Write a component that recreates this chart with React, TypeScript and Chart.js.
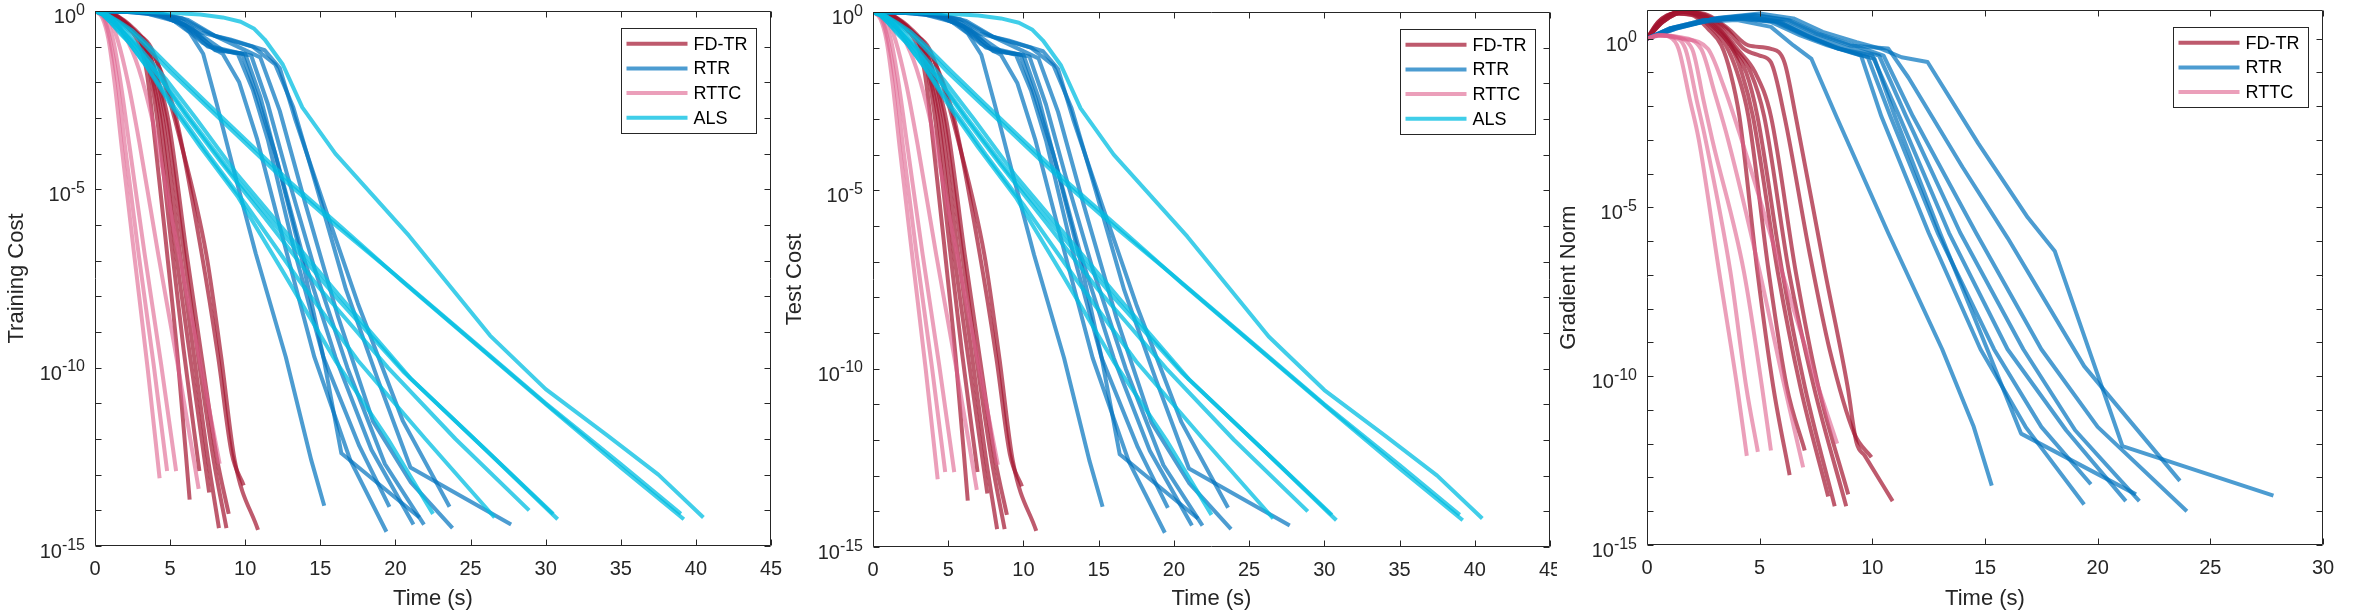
import React, { useEffect, useRef } from 'react';
import { Chart, registerables } from 'chart.js';

Chart.register(...registerables);

// Each curve: list of [time (s), log10(value)]
type Curve = [number, number][];

const METHOD_NAMES = ['FD-TR', 'RTR', 'RTTC', 'ALS'];
const METHOD_COLORS = [
  'rgba(162,20,47,0.7)',
  'rgba(0,114,189,0.7)',
  'rgba(222,95,140,0.6)',
  'rgba(0,190,225,0.75)',
];
// smooth (monotone) or straight segments per method
const METHOD_SMOOTH = [true, false, true, false];

const X_TICKS_COST = [0, 5, 10, 15, 20, 25, 30, 35, 40, 45];
const X_TICKS_GRAD = [0, 5, 10, 15, 20, 25, 30];
const Y_LABEL_EXPONENTS = [0, -5, -10, -15];

// ---------- Training cost ----------
const TRAIN_FDTR: Curve[] = [
  [[0, 0], [1, -0.1], [2, -0.4], [2.8, -0.8], [3.4, -1.6], [3.8, -2.9], [4.8, -6.8], [5.5, -9.7], [6.3, -13.7]],
  [[0, 0], [1, -0.1], [2.1, -0.4], [3.0, -0.8], [3.6, -1.6], [4.1, -2.9], [5.1, -6.6], [5.9, -9.5], [6.95, -12.9]],
  [[0, 0], [1.1, -0.1], [2.2, -0.4], [3.1, -0.9], [3.7, -1.7], [4.3, -2.9], [5.4, -6.8], [6.4, -9.9], [7.6, -13.5]],
  [[0, 0], [1.1, -0.1], [2.3, -0.5], [3.2, -0.9], [3.8, -1.6], [4.5, -3.0], [5.6, -6.6], [6.6, -9.7], [7.5, -12.5], [8.25, -14.5]],
  [[0, 0], [1.2, -0.1], [2.4, -0.5], [3.3, -0.9], [4.0, -1.7], [4.7, -3.0], [5.9, -6.7], [6.9, -9.8], [7.9, -12.6], [8.75, -14.5]],
  [[0, 0], [1.2, -0.1], [2.5, -0.5], [3.4, -1.0], [4.1, -1.8], [4.9, -3.1], [6.1, -6.8], [7.1, -9.7], [8.1, -12.5], [8.9, -14.1]],
  [[0, 0], [1.3, -0.1], [2.6, -0.5], [3.6, -1.0], [4.5, -1.8], [5.4, -3.0], [7.1, -6.8], [8.2, -9.7], [9.1, -12.4], [9.9, -13.3]],
  [[0, 0], [1.3, -0.1], [2.7, -0.6], [3.7, -1.0], [4.6, -2.0], [5.6, -3.5], [7.4, -6.8], [8.4, -9.7], [9.3, -12.6], [10.85, -14.55]],
];

const TRAIN_RTR: Curve[] = [
  [[0, 0], [2, -0.02], [3.5, -0.08], [5, -0.2], [6.3, -0.6], [7.2, -1.2], [8.1, -2.6], [9.2, -4.4], [10.7, -6.8], [12.7, -9.7], [14.4, -12.6], [15.26, -13.87]],
  [[0, 0], [2, -0.02], [3.5, -0.08], [5.5, -0.3], [7.2, -0.9], [8.5, -1.2], [9.6, -2.0], [10.8, -3.6], [12.4, -6.2], [14.6, -9.7], [17.0, -12.6], [19.4, -14.6]],
  [[0, 0], [2.5, -0.02], [4.2, -0.1], [6, -0.4], [7.5, -1.0], [9.5, -1.2], [10.5, -2.2], [11.5, -3.6], [13.2, -6.6], [15.2, -9.7], [17.6, -12.2], [19.6, -13.9]],
  [[0, 0], [2.5, -0.02], [4.2, -0.1], [6, -0.4], [7.8, -1.0], [9.8, -1.2], [10.8, -2.4], [12, -4], [13.8, -6.8], [16.0, -9.7], [18.4, -12.3], [21.2, -14.4]],
  [[0, 0], [3, -0.02], [4.8, -0.12], [6.5, -0.5], [8, -1.1], [10, -1.2], [11, -2.4], [12.3, -4.5], [13.8, -7], [15.2, -9.7], [16.4, -12.4], [21.6, -14.2]],
  [[0, 0], [3, -0.03], [5, -0.15], [6.8, -0.6], [8.5, -1.1], [10.4, -1.25], [11.5, -2.6], [12.8, -4.6], [14.6, -7.2], [16.8, -10], [19.3, -12.7], [21.9, -14.4]],
  [[0, 0], [3.5, -0.03], [5.5, -0.2], [7, -0.6], [9, -0.8], [11.3, -1.1], [12.3, -1.6], [13.3, -3.0], [15.3, -5.5], [17.5, -8.2], [20.5, -11.5], [23.6, -13.9]],
  [[0, 0], [3.5, -0.03], [5.8, -0.2], [7.5, -0.6], [9.5, -1.0], [11, -1.3], [12.3, -2.8], [14, -5.4], [16.2, -8.6], [18.5, -11.5], [21, -13.2], [23.8, -14.5]],
  [[0, 0], [4, -0.03], [6.2, -0.25], [8, -0.7], [10.5, -1.0], [12, -1.5], [13.2, -2.7], [14.8, -5], [16.7, -7.8], [18.8, -10.3], [21, -12.8], [27.7, -14.4]],
];

const TRAIN_RTTC: Curve[] = [
  [[0, 0], [0.5, -0.2], [0.9, -0.8], [1.3, -2.0], [1.8, -3.9], [2.6, -6.8], [3.5, -10], [4.3, -13.1]],
  [[0, 0], [0.6, -0.2], [1.0, -0.8], [1.5, -2.0], [2.0, -3.8], [2.9, -6.8], [3.9, -9.9], [4.8, -12.9]],
  [[0, 0], [0.7, -0.2], [1.2, -0.8], [1.7, -2.0], [2.3, -3.8], [3.3, -6.8], [4.4, -9.9], [5.4, -12.9]],
  [[0, 0], [0.9, -0.2], [1.5, -0.8], [2.2, -2.0], [3.0, -3.8], [4.2, -6.8], [5.5, -9.9], [6.9, -13.4]],
  [[0, 0], [1.1, -0.2], [2.0, -0.7], [2.9, -1.6], [3.9, -3.2], [5.3, -6.2], [6.8, -9.4], [8.3, -12.7]],
];

const TRAIN_ALS: Curve[] = [
  [[0, 0], [0.5, -0.1], [1, -0.3], [1.6, -0.55], [2.2, -0.85], [3.5, -1.6], [5, -2.6], [7, -3.8], [9.5, -5.2], [12.5, -7.3], [16, -9.8], [19.5, -12], [22.5, -14.1]],
  [[0, 0], [0.5, -0.1], [1, -0.3], [1.6, -0.6], [2.3, -0.9], [3.7, -1.7], [5.3, -2.7], [7.5, -4.0], [10, -5.4], [13.5, -7.5], [17.5, -9.8], [22, -12], [26.6, -14.2]],
  [[0, 0], [0.6, -0.1], [1.2, -0.3], [1.9, -0.6], [2.6, -0.9], [4.2, -1.8], [6, -2.9], [8.5, -4.3], [11.5, -5.9], [15, -7.8], [19.5, -10], [24, -12], [28.9, -14.0]],
  [[0, 0], [0.6, -0.1], [1.2, -0.3], [1.9, -0.6], [2.7, -1.0], [4.4, -1.9], [6.3, -3.0], [9, -4.5], [12, -6], [16, -8], [20.5, -10.1], [25.5, -12.1], [30.5, -14.1]],
  [[0, 0], [0.7, -0.1], [1.3, -0.3], [2.1, -0.6], [2.9, -1.0], [4.7, -1.9], [6.7, -3.0], [9.5, -4.6], [12.5, -6.1], [16.5, -8.1], [21, -10.3], [26, -12.3], [30.8, -14.25]],
  [[0, 0], [0.8, -0.1], [1.5, -0.3], [2.3, -0.55], [3.2, -0.9], [5, -1.7], [7, -2.5], [9.5, -3.5], [12.5, -4.7], [16, -6], [20, -7.4], [25, -9.2], [30, -11], [35, -12.7], [39, -14.1]],
  [[0, 0], [0.8, -0.1], [1.6, -0.3], [2.5, -0.55], [3.4, -0.9], [5.3, -1.7], [7.5, -2.6], [10, -3.6], [13, -4.8], [16.5, -6.1], [20.5, -7.6], [25.5, -9.4], [30.5, -11.2], [35, -12.8], [39.2, -14.25]],
  [[0, 0], [3, -0.02], [5, -0.05], [7, -0.1], [8.5, -0.18], [9.7, -0.3], [10.6, -0.5], [11.3, -0.8], [12.5, -1.5], [13.8, -2.7], [16, -4], [20.9, -6.3], [26.3, -9.1], [30, -10.6], [34.1, -11.9], [37.5, -13], [40.5, -14.2]],
];

// ---------- Test cost (visually identical runs) ----------
const TEST_FDTR: Curve[] = TRAIN_FDTR;
const TEST_RTR: Curve[] = TRAIN_RTR;
const TEST_RTTC: Curve[] = TRAIN_RTTC;
const TEST_ALS: Curve[] = TRAIN_ALS;

// ---------- Gradient norm ----------
const GRAD_FDTR: Curve[] = [
  [[0, 0], [0.5, 0.5], [1.2, 0.75], [2, 0.7], [2.7, 0.3], [3.3, -0.2], [3.7, -1], [4.1, -2.3], [4.9, -6.9], [5.6, -10.3], [6.33, -12.93]],
  [[0, 0], [0.5, 0.5], [1.3, 0.75], [2.1, 0.7], [2.9, 0.3], [3.5, -0.2], [4.0, -1], [4.5, -2.3], [5.4, -6.9], [6.2, -10.3], [7.0, -12.2]],
  [[0, 0], [0.6, 0.5], [1.4, 0.8], [2.2, 0.7], [3.0, 0.3], [3.7, -0.2], [4.2, -1], [4.7, -2.3], [5.8, -6.9], [6.8, -10.3], [8.04, -13.56]],
  [[0, 0], [0.6, 0.5], [1.5, 0.8], [2.3, 0.7], [3.1, 0.3], [3.8, -0.3], [4.4, -1], [4.9, -2.3], [6.0, -6.9], [7.0, -10.3], [8.33, -13.85]],
  [[0, 0], [0.6, 0.5], [1.5, 0.8], [2.4, 0.7], [3.2, 0.3], [3.9, -0.3], [4.6, -1], [5.2, -2.3], [6.3, -6.9], [7.4, -10.3], [8.84, -13.85]],
  [[0, 0], [0.7, 0.5], [1.6, 0.8], [2.5, 0.7], [3.3, 0.3], [4.0, -0.3], [4.8, -1.0], [5.5, -2.3], [6.6, -6.9], [7.6, -10.3], [8.93, -13.5]],
  [[0, 0], [0.7, 0.5], [1.7, 0.8], [2.6, 0.7], [3.5, 0.3], [4.3, -0.3], [5.0, -0.5], [5.5, -0.7], [6.1, -2.3], [7.2, -6.3], [8.1, -9.2], [9.2, -11.7], [9.96, -12.4]],
  [[0, 0], [0.7, 0.5], [1.7, 0.8], [2.7, 0.7], [3.6, 0.3], [4.5, -0.2], [5.5, -0.3], [6.1, -0.7], [6.6, -2.3], [7.9, -6.9], [8.9, -10.3], [9.29, -11.95], [9.67, -12.36], [10.9, -13.7]],
];

const GRAD_RTR: Curve[] = [
  [[0, 0], [1, 0.3], [2.5, 0.5], [4, 0.55], [5.5, 0.35], [6.5, -0.2], [7.3, -0.6], [8.4, -2.3], [10.7, -5.75], [13.1, -9.2], [14.5, -11.5], [15.3, -13.24]],
  [[0, 0], [1, 0.3], [2.5, 0.55], [4, 0.6], [5.5, 0.5], [6.8, 0.1], [8, -0.2], [9.5, -0.5], [10.4, -2.3], [12.5, -5.75], [14.8, -9.2], [16.8, -11.5], [19.4, -13.8]],
  [[0, 0], [1, 0.3], [2.5, 0.55], [4.2, 0.6], [5.7, 0.5], [7, 0.1], [8.3, -0.25], [9.8, -0.55], [10.8, -2.3], [12.9, -5.75], [15.4, -9.2], [17.5, -11.5], [19.7, -13.2]],
  [[0, 0], [1.1, 0.3], [2.7, 0.55], [4.3, 0.62], [5.8, 0.5], [7.1, 0.1], [8.5, -0.3], [10, -0.5], [11.2, -2.3], [13.4, -5.75], [16, -9.2], [18.6, -11.6], [21.25, -13.7]],
  [[0, 0], [1.1, 0.3], [2.8, 0.55], [4.4, 0.62], [5.9, 0.5], [7.2, 0.05], [8.6, -0.3], [10.1, -0.6], [11.0, -2.3], [13, -5.75], [15.1, -9.2], [16.6, -11.7], [21.7, -13.5]],
  [[0, 0], [1.2, 0.3], [2.9, 0.58], [4.6, 0.65], [6, 0.5], [7.3, 0.1], [8.8, -0.25], [10.3, -0.5], [11.5, -2.3], [13.9, -5.75], [16.7, -9.2], [19, -11.6], [21.85, -13.7]],
  [[0, 0], [1.2, 0.3], [3, 0.6], [4.7, 0.7], [6.2, 0.55], [7.5, 0.15], [9, -0.2], [10.7, -0.29], [11.6, -1.15], [14, -3.8], [16, -5.9], [19.4, -9.7], [23.65, -13.1]],
  [[0, 0], [1.3, 0.3], [3.1, 0.6], [4.8, 0.7], [6.3, 0.55], [7.6, 0.15], [9.2, -0.2], [10.5, -0.5], [11.8, -2.3], [14.6, -5.75], [17.5, -9.2], [20, -11.5], [23.96, -14.0]],
  [[0, 0], [1.3, 0.3], [3.2, 0.62], [5, 0.75], [6.5, 0.6], [7.8, 0.2], [9.3, -0.1], [10.4, -0.3], [11.3, -0.55], [12.45, -0.69], [14.7, -3.1], [16.9, -5.3], [18.1, -6.3], [21.1, -12.07], [27.8, -13.54]],
];

const GRAD_RTTC: Curve[] = [
  [[0, 0], [0.5, 0.1], [1.0, 0.05], [1.4, -0.3], [1.9, -1.8], [2.3, -3], [3.2, -6.9], [4.0, -10.3], [4.43, -12.36]],
  [[0, 0], [0.5, 0.1], [1.1, 0.05], [1.7, -0.3], [2.2, -1.8], [2.6, -3], [3.7, -6.9], [4.4, -10.3], [4.92, -12.24]],
  [[0, 0], [0.5, 0.1], [1.2, 0.05], [2.0, -0.3], [2.5, -1.8], [2.9, -3], [4.3, -6.9], [5.1, -10.3], [5.5, -12.2]],
  [[0, 0], [0.6, 0.1], [1.4, 0.05], [2.4, -0.3], [3.0, -1.6], [3.6, -3], [5.0, -6.9], [6.0, -10], [6.93, -12.7]],
  [[0, 0], [0.7, 0.1], [1.6, 0.0], [2.7, -0.3], [3.4, -1.4], [4.2, -3], [5.8, -6.5], [7.2, -9.5], [8.44, -12.0]],
];

const FONT_FAMILY = "'Liberation Sans', Arial, Helvetica, sans-serif";
const AXIS_COLOR = '#262626';
const CANVAS_H = 610;
const LINE_W = 4;

interface SeriesSpec { name: string; color: string; smooth: boolean; curves: Curve[] }

interface PanelSpec {
  canvasLeft: number;
  canvasWidth: number;
  plotLeft: number;
  plotRight: number;
  plotTop: number;
  plotBottom: number;
  xMax: number;
  xTicks: number[];
  yMaxExp: number;
  yTitle: string;
  yTitleCenter: number;
  series: SeriesSpec[];
  whiteBg: boolean;
}

function makeFramePlugin(spec: PanelSpec) {
  return {
    id: 'matlabFrame',
    beforeDraw(chart: any) {
      if (!spec.whiteBg) return;
      const ctx = chart.ctx;
      ctx.save();
      ctx.fillStyle = '#ffffff';
      ctx.fillRect(0, 0, chart.width, chart.height);
      ctx.restore();
    },
    afterDatasetsDraw(chart: any) {
      const { ctx, chartArea: a, scales } = chart;
      const xs = scales.x;
      const ys = scales.y;
      ctx.save();
      ctx.strokeStyle = AXIS_COLOR;
      ctx.lineWidth = 1;
      const L = Math.round(a.left) + 0.5;
      const R = Math.round(a.right) - 0.5;
      const T = Math.round(a.top) + 0.5;
      const B = Math.round(a.bottom) - 0.5;
      ctx.beginPath();
      ctx.rect(L, T, R - L, B - T);
      const tl = 6;
      for (const t of spec.xTicks) {
        const px = Math.round(xs.getPixelForValue(t)) + 0.5;
        ctx.moveTo(px, B);
        ctx.lineTo(px, B - tl);
        ctx.moveTo(px, T);
        ctx.lineTo(px, T + tl);
      }
      for (let e = -15; e <= Math.floor(spec.yMaxExp); e++) {
        const py = Math.round(ys.getPixelForValue(Math.pow(10, e))) + 0.5;
        ctx.moveTo(L, py);
        ctx.lineTo(L + tl, py);
        ctx.moveTo(R, py);
        ctx.lineTo(R - tl, py);
      }
      ctx.stroke();

      // y tick labels: 10^e
      ctx.fillStyle = AXIS_COLOR;
      ctx.textBaseline = 'alphabetic';
      for (const e of Y_LABEL_EXPONENTS) {
        const py = ys.getPixelForValue(Math.pow(10, e));
        const right = a.left - 10;
        const expStr = String(e);
        ctx.font = `16px ${FONT_FAMILY}`;
        const ew = ctx.measureText(expStr).width;
        ctx.textAlign = 'left';
        ctx.fillText(expStr, right - ew, py + 3.5);
        ctx.font = `20px ${FONT_FAMILY}`;
        ctx.textAlign = 'right';
        ctx.fillText('10', right - ew, py + 12);
      }

      // legend
      const n = spec.series.length;
      const boxW = 134.5;
      const rowH = 24.7;
      const boxRight = a.right - 16;
      const boxTop = a.top + 17;
      const boxLeft = boxRight - boxW;
      const boxH = 15.7 + rowH * (n - 1) + 14.7;
      ctx.fillStyle = '#ffffff';
      ctx.fillRect(boxLeft, boxTop, boxW, boxH);
      ctx.strokeStyle = AXIS_COLOR;
      ctx.lineWidth = 1;
      ctx.strokeRect(Math.round(boxLeft) + 0.5, Math.round(boxTop) + 0.5, Math.round(boxW), Math.round(boxH));
      ctx.font = `18px ${FONT_FAMILY}`;
      ctx.textAlign = 'left';
      ctx.textBaseline = 'middle';
      spec.series.forEach((s, i) => {
        const cy = boxTop + 15.7 + rowH * i;
        ctx.strokeStyle = s.color;
        ctx.lineWidth = LINE_W;
        ctx.lineCap = 'butt';
        ctx.beginPath();
        ctx.moveTo(boxLeft + 6, cy);
        ctx.lineTo(boxLeft + 67, cy);
        ctx.stroke();
        ctx.fillStyle = '#000000';
        ctx.fillText(s.name, boxLeft + 73, cy + 1);
      });
      ctx.restore();
    },
  };
}

function Panel({ spec }: { spec: PanelSpec }) {
  const ref = useRef<HTMLCanvasElement | null>(null);
  useEffect(() => {
    if (!ref.current) return;
    const datasets: any[] = [];
    spec.series.forEach((s) => {
      s.curves.forEach((c, ci) => {
        datasets.push({
          label: `${s.name} run ${ci + 1}`,
          data: c.map(([t, e]) => ({ x: t, y: Math.pow(10, e) })),
          borderColor: s.color,
          backgroundColor: s.color,
          borderWidth: LINE_W,
          pointRadius: 0,
          pointHoverRadius: 0,
          fill: false,
          cubicInterpolationMode: s.smooth ? 'monotone' : 'default',
          tension: 0,
          borderCapStyle: 'butt',
          borderJoinStyle: 'round',
          order: -datasets.length,
        });
      });
    });
    const chart = new Chart(ref.current, {
      type: 'line',
      data: { datasets },
      plugins: [makeFramePlugin(spec)],
      options: {
        animation: false,
        responsive: false,
        events: [],
        layout: {
          padding: { left: 0, top: spec.plotTop, right: spec.canvasWidth - (spec.plotRight - spec.canvasLeft), bottom: 0 },
        },
        plugins: { legend: { display: false }, tooltip: { enabled: false }, title: { display: false } },
        scales: {
          x: {
            type: 'linear',
            min: 0,
            max: spec.xMax,
            grid: { display: false, drawTicks: false },
            border: { display: false },
            afterBuildTicks: (scale: any) => {
              scale.ticks = spec.xTicks.map((v) => ({ value: v }));
            },
            ticks: {
              autoSkip: false,
              maxRotation: 0,
              color: AXIS_COLOR,
              font: { family: FONT_FAMILY, size: 20 },
              padding: 11,
            },
            title: {
              display: true,
              text: 'Time (s)',
              color: AXIS_COLOR,
              font: { family: FONT_FAMILY, size: 22, lineHeight: 1 },
              padding: { top: 0, bottom: 0.5 },
            },
            afterFit: (scale: any) => {
              scale.height = CANVAS_H - spec.plotBottom;
              scale.paddingLeft = 0;
              scale.paddingRight = 0;
            },
          },
          y: {
            type: 'logarithmic',
            min: 1e-15,
            max: Math.pow(10, spec.yMaxExp),
            grid: { display: false, drawTicks: false },
            border: { display: false },
            ticks: { display: false },
            title: {
              display: true,
              text: spec.yTitle,
              color: AXIS_COLOR,
              font: { family: FONT_FAMILY, size: 22, lineHeight: 1 },
              padding: { top: spec.yTitleCenter - 11, bottom: 0 },
            },
            afterFit: (scale: any) => {
              scale.width = spec.plotLeft - spec.canvasLeft;
              scale.paddingTop = 0;
              scale.paddingBottom = 0;
            },
          },
        },
      } as any,
    });
    return () => chart.destroy();
  }, [spec]);
  return (
    <canvas
      ref={ref}
      width={spec.canvasWidth}
      height={CANVAS_H}
      style={{ position: 'absolute', left: spec.canvasLeft, top: 0, width: spec.canvasWidth, height: CANVAS_H }}
    />
  );
}

const mk = (names: string[], curves: Curve[][]): SeriesSpec[] =>
  curves.map((c, i) => {
    const mi = METHOD_NAMES.indexOf(names[i]);
    return { name: names[i], color: METHOD_COLORS[mi], smooth: METHOD_SMOOTH[mi], curves: c };
  });

const PANELS: PanelSpec[] = [
  {
    canvasLeft: 0, canvasWidth: 790, plotLeft: 95, plotRight: 771, plotTop: 11, plotBottom: 546,
    xMax: 45, xTicks: X_TICKS_COST, yMaxExp: 0, yTitle: 'Training Cost', yTitleCenter: 17,
    series: mk(METHOD_NAMES, [TRAIN_FDTR, TRAIN_RTR, TRAIN_RTTC, TRAIN_ALS]), whiteBg: false,
  },
  {
    canvasLeft: 783, canvasWidth: 790, plotLeft: 873, plotRight: 1550, plotTop: 12, plotBottom: 547,
    xMax: 45, xTicks: X_TICKS_COST, yMaxExp: 0, yTitle: 'Test Cost', yTitleCenter: 12,
    series: mk(METHOD_NAMES, [TEST_FDTR, TEST_RTR, TEST_RTTC, TEST_ALS]), whiteBg: false,
  },
  {
    canvasLeft: 1557, canvasWidth: 811, plotLeft: 1647, plotRight: 2323, plotTop: 10, plotBottom: 545,
    xMax: 30, xTicks: X_TICKS_GRAD, yMaxExp: 0.85, yTitle: 'Gradient Norm', yTitleCenter: 12,
    series: mk(['FD-TR', 'RTR', 'RTTC'], [GRAD_FDTR, GRAD_RTR, GRAD_RTTC]), whiteBg: true,
  },
];

export default function App() {
  return (
    <div style={{ position: 'absolute', left: 0, top: 0, width: 2368, height: CANVAS_H, background: '#ffffff' }}>
      {PANELS.map((p, i) => (
        <Panel key={i} spec={p} />
      ))}
    </div>
  );
}
